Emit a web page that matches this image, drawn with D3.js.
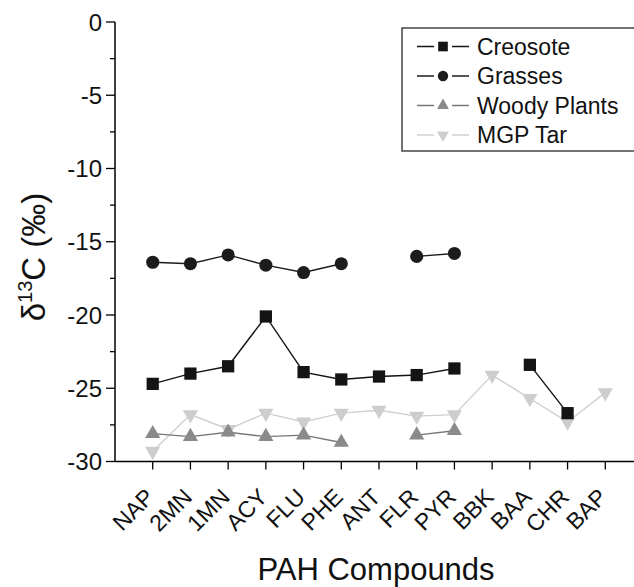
<!DOCTYPE html>
<html>
<head>
<meta charset="utf-8">
<script src="https://cdn.jsdelivr.net/npm/d3@7"></script>
<style>
  body { margin: 0; background: #fff; }
  svg { display: block; font-family: "Liberation Sans", Arial, sans-serif; }
</style>
</head>
<body>
<svg id="chart" width="634" height="587"></svg>
<script>
const compounds = ["NAP", "2MN", "1MN", "ACY", "FLU", "PHE", "ANT", "FLR", "PYR", "BBK", "BAA", "CHR", "BAP"];
const creosote = [-24.7, -24.0, -23.5, -20.1, -23.9, -24.4, -24.2, -24.1, -23.65, null, -23.4, -26.7, null];
const grasses = [-16.4, -16.5, -15.9, -16.6, -17.1, -16.5, null, -16.0, -15.8, null, null, null, null];
const woodyPlants = [-28.1, -28.3, -28.0, -28.3, -28.2, -28.7, null, -28.2, -27.9, null, null, null, null];
const mgpTar = [-29.3, -26.8, -27.8, -26.7, -27.3, -26.7, -26.5, -26.9, -26.8, -24.1, -25.7, -27.3, -25.3];
const yTicks = [0, -5, -10, -15, -20, -25, -30];

const series = [
    { name: "Creosote", values: creosote, symbol: d3.symbolSquare, size: 150, fill: "#141414", line: "#141414", rot: 0 },
    { name: "Grasses", values: grasses, symbol: d3.symbolCircle, size: 135, fill: "#1c1c1c", line: "#1c1c1c", rot: 0 },
    { name: "Woody Plants", values: woodyPlants, symbol: d3.symbolTriangle, size: 100, fill: "#8a8a8a", line: "#777", rot: 0 },
    { name: "MGP Tar", values: mgpTar, symbol: d3.symbolTriangle, size: 100, fill: "#cdcdcd", line: "#cfcfcf", rot: 180 }
];

const svg = d3.select("#chart");

const x = d3.scaleLinear().domain([0, 14]).range([115, 643]);
const y = d3.scaleLinear().domain([-30, 0]).range([461.5, 22]);

// y axis
const yAxis = svg.append("g").attr("transform", `translate(${x(0)},0)`);
yAxis.append("line").attr("y1", y(0)).attr("y2", y(-30)).attr("stroke", "#000").attr("stroke-width", 1.5);
yAxis.selectAll(".major").data(yTicks).join("line")
    .attr("x1", -9).attr("x2", 0).attr("y1", d => y(d)).attr("y2", d => y(d))
    .attr("stroke", "#000").attr("stroke-width", 1.3);
yAxis.selectAll(".minor").data(yTicks.slice(1).map(d => d + 2.5)).join("line")
    .attr("x1", -5).attr("x2", 0).attr("y1", d => y(d)).attr("y2", d => y(d))
    .attr("stroke", "#000").attr("stroke-width", 1.3);
yAxis.selectAll("text").data(yTicks).join("text")
    .attr("x", -13).attr("y", d => y(d)).attr("dy", "0.36em")
    .attr("text-anchor", "end").attr("font-size", 24).attr("fill", "#111")
    .text(d => d);

// x axis
const xAxis = svg.append("g").attr("transform", `translate(0,${y(-30)})`);
xAxis.append("line").attr("x1", x(0)).attr("x2", 640).attr("stroke", "#000").attr("stroke-width", 1.5);
xAxis.selectAll(".tick").data(compounds).join("line")
    .attr("x1", (d, i) => x(i + 1)).attr("x2", (d, i) => x(i + 1))
    .attr("y1", 0).attr("y2", 8).attr("stroke", "#000").attr("stroke-width", 1.3);
xAxis.selectAll("text").data(compounds).join("text")
    .attr("transform", (d, i) => `translate(${x(i + 1) + 3},${37}) rotate(-45)`)
    .attr("text-anchor", "end").attr("font-size", 23).attr("fill", "#111")
    .text(d => d);

// axis titles
svg.append("text")
    .attr("x", 376).attr("y", 580)
    .attr("text-anchor", "middle").attr("font-size", 31).attr("fill", "#111")
    .text("PAH Compounds");

const yTitle = svg.append("text")
    .attr("transform", "translate(45,257) rotate(-90)")
    .attr("text-anchor", "middle").attr("font-size", 33).attr("fill", "#111");
yTitle.append("tspan").text("δ");
yTitle.append("tspan").attr("font-size", 20).attr("dy", -13).text("13");
yTitle.append("tspan").attr("dy", 13).text("C (‰)");

// series, drawn back to front
const line = d3.line()
    .defined(d => d.v !== null)
    .x(d => x(d.i + 1))
    .y(d => y(d.v));

series.slice().reverse().forEach(s => {
    const pts = s.values.map((v, i) => ({ v, i }));
    svg.append("path").datum(pts)
        .attr("d", line).attr("fill", "none")
        .attr("stroke", s.line).attr("stroke-width", 1.4);
    svg.append("g").selectAll("path")
        .data(pts.filter(d => d.v !== null)).join("path")
        .attr("transform", d => `translate(${x(d.i + 1)},${y(d.v)}) rotate(${s.rot})`)
        .attr("d", d3.symbol(s.symbol, s.size))
        .attr("fill", s.fill);
});

// legend
const legend = svg.append("g");
legend.append("rect")
    .attr("x", 402).attr("y", 28).attr("width", 260).attr("height", 123)
    .attr("fill", "#fff").attr("stroke", "#444").attr("stroke-width", 1.5);
series.forEach((s, k) => {
    const ly = 46.5 + k * 29.5;
    legend.append("line").attr("x1", 417).attr("x2", 469).attr("y1", ly).attr("y2", ly)
        .attr("stroke", s.line).attr("stroke-width", 1.4);
    legend.append("rect").attr("x", 434).attr("y", ly - 8).attr("width", 18).attr("height", 16).attr("fill", "#fff");
    legend.append("path")
        .attr("transform", `translate(443,${ly}) rotate(${s.rot})`)
        .attr("d", d3.symbol(s.symbol, s.size * 0.62))
        .attr("fill", s.fill);
    legend.append("text").attr("x", 477).attr("y", ly).attr("dy", "0.36em")
        .attr("font-size", 23).attr("fill", "#111").text(s.name);
});
</script>
</body>
</html>
